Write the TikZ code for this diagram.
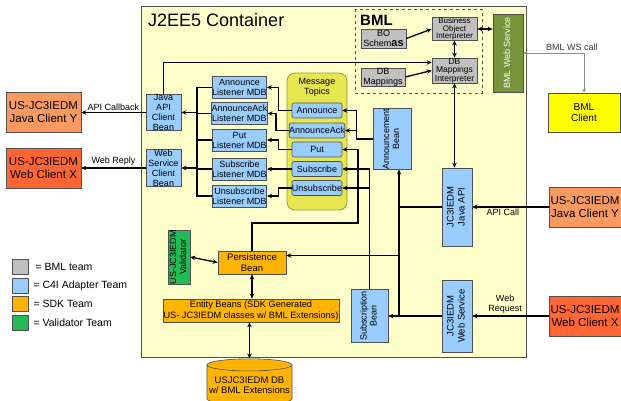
\documentclass[tikz,border=0pt]{standalone}
\usepackage{fontspec}
\setmainfont{Liberation Sans}
\usepackage{graphicx}
\usepackage{tikz}
\usetikzlibrary{arrows.meta, shapes.geometric, positioning}
\definecolor{bgContainer}{HTML}{FFFFCC}
\definecolor{teamBml}{HTML}{C0C0C0}
\definecolor{teamAdapter}{HTML}{99CCFF}
\definecolor{teamSdk}{HTML}{FFB400}
\definecolor{teamValid}{HTML}{22BB55}
\definecolor{topicFill}{HTML}{E6E650}
\definecolor{topicBorder}{HTML}{99993A}
\definecolor{bmlService}{HTML}{77933C}
\definecolor{clientJava}{HTML}{FA9A60}
\definecolor{clientWeb}{HTML}{FF6633}
\definecolor{clientBml}{HTML}{FFFF00}
\definecolor{boxBorder}{HTML}{505050}
\newcommand{\vtxt}[1]{\rotatebox{90}{\begin{tabular}{@{}c@{}}#1\end{tabular}}}

\begin{document}
\begin{tikzpicture}[
    x=1pt, y=-1pt,
    comp/.style={rectangle, draw=boxBorder, fill=#1, line width=0.6pt,
                 inner sep=0pt, align=center, font=\fontsize{9}{10}\selectfont},
    client/.style={comp=#1, font=\fontsize{11.5}{13}\selectfont,
                   minimum width=75pt, minimum height=40pt},
    listener/.style={comp=teamAdapter, minimum width=53pt, minimum height=22pt},
    topic/.style={comp=teamAdapter, rounded corners=2pt, minimum width=50pt, minimum height=15pt},
    legendbox/.style={draw=boxBorder, fill=#1, line width=0.6pt, minimum width=16pt,
                      minimum height=15pt, inner sep=0pt},
    wire/.style={line width=1.3pt},
    arrow/.style={-{Stealth[length=5pt, width=4.5pt]}, line width=1.3pt},
    darrow/.style={{Stealth[length=5pt, width=4.5pt]}-{Stealth[length=5pt, width=4.5pt]}, line width=1.3pt},
    grayarrow/.style={{Stealth[length=4pt, width=3.5pt]}-{Stealth[length=4pt, width=3.5pt]},
                      draw=black!45, line width=1pt},
    lbl/.style={font=\fontsize{9}{10}\selectfont, inner sep=1.5pt, align=center},
    legendtext/.style={font=\fontsize{10.5}{11}\selectfont, inner sep=0pt},
]
\useasboundingbox (0,0) rectangle (621,400);

% -- J2EE5 container --
\fill[bgContainer] (141,6) rectangle (526,357);
\draw[boxBorder, line width=0.8pt] (141,6) rectangle (526,357);
\node[anchor=west, inner sep=0pt, font=\fontsize{18}{18}\selectfont] (title) at (148,20) {J2EE5 Container};

% -- BML --
\draw[boxBorder, dashed, line width=0.8pt] (355,9) rectangle (482,93);
\node[anchor=west, inner sep=0pt, font=\fontsize{15}{15}\selectfont\bfseries] (bmlTitle) at (360,20) {BML};
\node[comp=teamBml, minimum width=45pt, minimum height=19pt] (boSchemas) at (383.5,38.5)
    {BO\\Schem{\fontsize{11}{11}\selectfont\bfseries as}};
\node[comp=teamBml, minimum width=44pt, minimum height=18pt] (dbMappings) at (383,77) {DB\\Mappings};
\node[comp=teamBml, minimum width=45pt, minimum height=21pt, font=\fontsize{8}{7.5}\selectfont]
    (boInterp) at (454.5,29) {Business\\Object\\Interpreter};
\node[comp=teamBml, minimum width=45pt, minimum height=25pt, font=\fontsize{8.5}{8.5}\selectfont]
    (dbInterp) at (454.5,70.5) {DB\\Mappings\\Interpreter};
\node[comp=bmlService, minimum width=30pt, minimum height=78pt, text=white] (bmlWs) at (508,53)
    {\vtxt{BML Web Service}};
\node[client=clientBml, minimum width=72pt, minimum height=39pt, font=\fontsize{10}{11.5}\selectfont]
    (bmlClient) at (584,112.5) {BML\\Client};

% -- Message topics --
\node[rounded corners=8pt, draw=topicBorder, fill=topicFill, line width=0.8pt,
      minimum width=60pt, minimum height=137pt] (topics) at (317,141.5) {};
\node[lbl] (topicsTitle) at (317,87.5) {Message\\Topics};
\node[topic] (tAnnounce) at (317,110.5) {Announce};
\node[topic] (tAck) at (317,130.5) {AnnounceAck};
\node[topic] (tPut) at (317,149.5) {Put};
\node[topic] (tSub) at (317,169) {Subscribe};
\node[topic] (tUnsub) at (317,188) {Unsubscribe};

% -- Listener MDBs --
\node[listener] (lAnnounce) at (239.5,87.5) {Announce\\Listener MDB};
\node[listener] (lAck) at (239.5,113.5) {AnnounceAck\\Listener MDB};
\node[listener] (lPut) at (239.5,140) {Put\\Listener MDB};
\node[listener] (lSub) at (239.5,169) {Subscribe\\Listener MDB};
\node[listener] (lUnsub) at (239.5,196) {Unsubscribe\\Listener MDB};

% -- Client beans and clients --
\node[comp=teamAdapter, minimum width=35pt, minimum height=33pt] (javaBean) at (163.5,112.5)
    {Java\\API\\Client\\Bean};
\node[comp=teamAdapter, minimum width=35pt, minimum height=33pt] (wsBean) at (163.5,168)
    {Web\\Service\\Client\\Bean};
\node[client=clientJava] (javaClientL) at (43.5,112.5) {US-JC3IEDM\\Java Client Y};
\node[client=clientWeb] (webClientL) at (43.5,168) {US-JC3IEDM\\Web Client X};
\node[client=clientJava, minimum width=72pt] (javaClientR) at (585,207) {US-JC3IEDM\\Java Client Y};
\node[client=clientWeb, minimum width=72pt] (webClientR) at (585,316) {US-JC3IEDM\\Web Client X};

% -- Adapter beans and JC3IEDM APIs --
\node[comp=teamAdapter, minimum width=38pt, minimum height=54pt] (annBean) at (392,139)
    {\vtxt{Announcement\\Bean}};
\node[comp=teamAdapter, minimum width=37pt, minimum height=53pt] (subBean) at (369.5,316)
    {\vtxt{Subscription\\Bean}};
\node[comp=teamAdapter, minimum width=30pt, minimum height=78pt, font=\fontsize{9.5}{11}\selectfont]
    (jcApi) at (457,207) {\vtxt{JC3IEDM\\Java API}};
\node[comp=teamAdapter, minimum width=30pt, minimum height=72pt, font=\fontsize{9.5}{11}\selectfont]
    (jcWs) at (457,316) {\vtxt{JC3IEDM\\Web Service}};

% -- SDK --
\node[comp=teamSdk, minimum width=68pt, minimum height=23pt, font=\fontsize{9.5}{11}\selectfont]
    (persist) at (252,262.5) {Persistence\\Bean};
\node[comp=teamValid, minimum width=22pt, minimum height=50pt] (validator) at (179,257)
    {\vtxt{US-JC3IEDM\\Validator}};
\node[comp=teamSdk, minimum width=176pt, minimum height=23pt, font=\fontsize{9.2}{10.5}\selectfont]
    (entity) at (251,310.5) {Entity Beans (SDK Generated\\US- JC3IEDM classes w/ BML Extensions)};
\node[cylinder, shape border rotate=90, aspect=0.15, draw=boxBorder, fill=teamSdk, line width=0.6pt,
      minimum width=85pt, minimum height=46pt, inner sep=0pt, align=center,
      font=\fontsize{9.5}{10.5}\selectfont] (db) at (249.5,385) {USJC3IEDM DB\\w/ BML Extensions};

% -- Legend --
\node[legendbox=teamBml] (legBml) at (20,266.5) {};
\node[legendtext, right=7pt of legBml] (legBmlTxt) {= BML team};
\node[legendbox=teamAdapter] (legAdapter) at (20,285.5) {};
\node[legendtext, right=5pt of legAdapter] (legAdapterTxt) {= C4I Adapter Team};
\node[legendbox=teamSdk] (legSdk) at (20,303.5) {};
\node[legendtext, right=5pt of legSdk] (legSdkTxt) {= SDK Team};
\node[legendbox=teamValid] (legValid) at (20,322.5) {};
\node[legendtext, right=5pt of legValid] (legValidTxt) {= Validator Team};

% -- Connectors --
\draw[arrow] (javaBean.west) -- (javaClientL.east) node[lbl, midway, above] {API Callback};
\draw[arrow] (wsBean.west) -- (webClientL.east) node[lbl, midway, above] {Web Reply};

\coordinate (busL) at (197,0);
\draw[wire] (lAnnounce.west) -| (busL |- lUnsub.west) -- (lUnsub.west);
\foreach \l in {lAck, lPut, lSub}
    \draw[wire] (\l.west) -- (busL |- \l.west);
\draw[arrow] (busL |- javaBean.east) -- (javaBean.east);
\draw[arrow] (busL |- wsBean.east) -- (wsBean.east);

\foreach \t/\l in {tAnnounce/lAnnounce, tAck/lAck, tPut/lPut, tUnsub/lUnsub}
    \draw[arrow] (\t.west) -- ++(-13,0) |- (\l.east);
\draw[arrow] (tSub.west) -- (lSub.east);

\draw[arrow] (annBean.west) -- ++(-16,0) coordinate (annJoin) |- (tAnnounce.east);
\draw[arrow] (annJoin) |- (tAck.east);

\coordinate (putJoin) at (358,223);
\draw[arrow] (persist.north) |- (putJoin) |- (tPut.east);
\draw[arrow] (subBean.north) |- (tSub.east);
\draw[arrow] (subBean.north) |- (tUnsub.east);

\coordinate (busR) at (399,0);
\coordinate (persistIn) at ([yshift=7pt]persist.east);
\draw[wire] (jcApi.west) -- (busR |- jcApi.west);
\draw[arrow] (jcWs.west) -- (subBean.east);
\draw[arrow] (busR |- jcWs.west) -- (busR |- annBean.south);
\draw[arrow] (busR |- persistIn) -- (persistIn);

\draw[arrow] (javaClientR.west) -- (jcApi.east) node[lbl, pos=0.6, below] {API Call};
\draw[arrow] (webClientR.west) -- (jcWs.east) node[lbl, pos=0.57, above] {Web\\Request};

\draw[darrow] (dbInterp.south) -- (dbInterp.south |- jcApi.north);
\draw[darrow] (boInterp.south) -- (dbInterp.north);
\draw[arrow] (boSchemas.east) -- (boInterp.west);
\draw[arrow] (dbMappings.east) -- (dbInterp.west);
\draw[darrow] (boInterp.east) -- (bmlWs.west |- boInterp.east);
\coordinate (dbInterpIn) at ([yshift=8pt]dbInterp.west);
\draw[arrow] (javaBean.north) |- (dbInterpIn);
\draw[grayarrow] (bmlWs.east) -| node[lbl, pos=0.4, above, text=black!80] {BML WS call} (bmlClient.north);

\draw[darrow] (validator.east) -- (persist.west);
\draw[darrow] (persist.south) -- (persist.south |- entity.north);
\draw[darrow] (db.north |- entity.south) -- (db.north);

\end{tikzpicture}
\end{document}
